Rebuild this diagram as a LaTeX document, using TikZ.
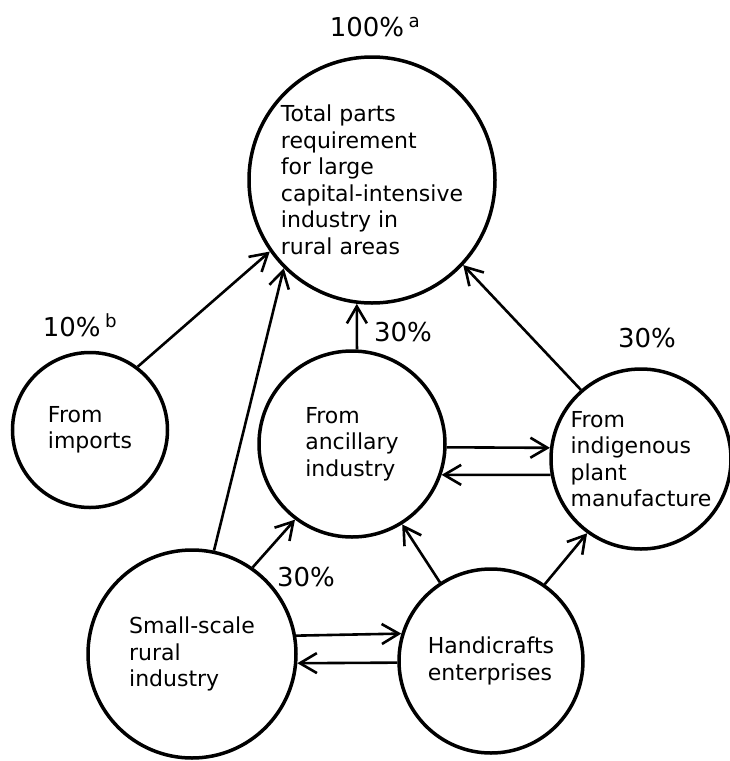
\documentclass[tikz,border=0pt]{standalone}
\usepackage{fontspec}
\setmainfont{DejaVu Sans}
\usetikzlibrary{arrows.meta}

\tikzset{
  blob/.style={circle, draw, line width=3.5pt, inner sep=0pt, align=left,
    font=\fontsize{22}{26.5}\selectfont},
  feed/.style={line width=2.6pt, -{Straight Barb[length=17pt,width=20pt]}},
  pct/.style={font=\fontsize{26}{30}\selectfont}
}

\begin{document}
\begin{tikzpicture}[x=1pt,y=-1pt]
  \useasboundingbox (0,0) rectangle (729,761);

  % circles
  \node[blob, minimum size=246pt] (tot) at (372,180)
    {Total parts\\requirement\\for large\\capital-intensive\\industry in\\rural areas};
  \node[blob, minimum size=155pt] (imp) at (90,430) {From\\imports};
  \node[blob, minimum size=186pt] (anc) at (352,444) {From\\ancillary\\industry};
  \node[blob, minimum size=180pt] (ind) at (641,459)
    {From\\indigenous\\plant\\manufacture};
  \node[blob, minimum size=208pt] (ssr) at (192,654) {Small-scale\\rural\\industry};
  \node[blob, minimum size=184pt] (hnd) at (491,661) {Handicrafts\\enterprises};

  % shares
  \node[pct] (ptot) at (375,27) {100\%\,\textsuperscript{a}};
  \node[pct] (pimp) at (80,325) {10\%\,\textsuperscript{b}};
  \node[pct] (panc) at (403,332) {30\%};
  \node[pct] (pind) at (647,338) {30\%};
  \node[pct] (pssr) at (306,577) {30\%};

  % flows into the total
  \draw[feed] (imp.53) -- (tot.215);
  \draw[feed] (ssr.78) -- (tot.225);
  \draw[feed] (anc.87) -- (tot.263);
  \draw[feed] (ind.131) -- (tot.317);

  % ancillary and indigenous
  \draw[feed] (anc.-2.5) -- (ind.173);
  \draw[feed] (ind.190.2) -- (anc.-19.7);

  % from below
  \draw[feed] (ssr.55) -- (anc.233);
  \draw[feed] (hnd.123) -- (anc.302);
  \draw[feed] (hnd.55) -- (ind.234);

  % small-scale and handicrafts
  \draw[feed] (ssr.10.5) -- (hnd.163.4);
  \draw[feed] (hnd.181.3) -- (ssr.-5);

\end{tikzpicture}
\end{document}
